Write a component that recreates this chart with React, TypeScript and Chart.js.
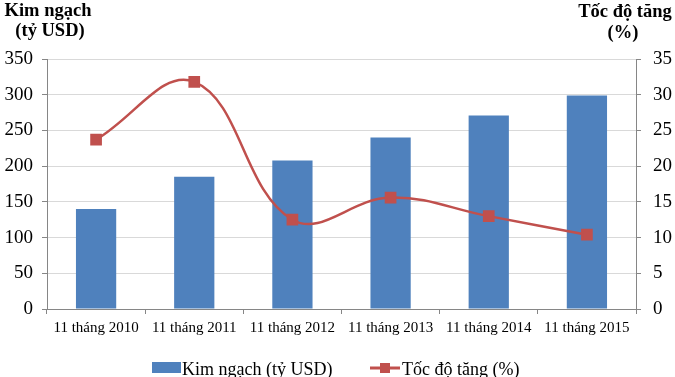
import React, { useEffect, useRef } from "react";
import { Chart, registerables } from "chart.js";

Chart.register(...registerables);

const categories = ["11 tháng 2010", "11 tháng 2011", "11 tháng 2012", "11 tháng 2013", "11 tháng 2014", "11 tháng 2015"];
const kimNgach = [140, 185, 208, 240, 271, 299];
const tocDo = [23.7, 31.8, 12.5, 15.6, 13.0, 10.4];
const barLabel = "Kim ngạch (tỷ USD)";
const lineLabel = "Tốc độ tăng (%)";

const BLUE = "#4F81BD";
const RED = "#C0504D";
const FONT = "'Liberation Serif', 'Times New Roman', serif";

const overlay = {
  id: "overlay",
  afterDraw(chart: any) {
    const ctx = chart.ctx;
    ctx.save();
    ctx.fillStyle = "#000";
    ctx.textAlign = "center";
    ctx.textBaseline = "middle";
    ctx.font = `bold 18.5px ${FONT}`;
    ctx.fillText("Kim ngạch", 48, 11);
    ctx.fillText("(tỷ USD)", 50, 31);
    ctx.fillText("Tốc độ tăng", 625, 12);
    ctx.fillText("(%)", 623, 33);

    // legend
    ctx.font = `18px ${FONT}`;
    ctx.textAlign = "left";
    ctx.fillStyle = BLUE;
    ctx.fillRect(152, 362, 29, 11);
    ctx.fillStyle = "#000";
    ctx.fillText(barLabel, 182, 370);
    ctx.strokeStyle = RED;
    ctx.lineWidth = 3;
    ctx.beginPath();
    ctx.moveTo(370, 368);
    ctx.lineTo(400, 368);
    ctx.stroke();
    ctx.fillStyle = RED;
    ctx.fillRect(380, 363, 10, 10);
    ctx.fillStyle = "#000";
    ctx.fillText(lineLabel, 402, 370);
    ctx.restore();
  },
};

export default function App() {
  const ref = useRef<HTMLCanvasElement>(null);
  useEffect(() => {
    document.body.style.margin = "0";
    const chart = new Chart(ref.current!, {
      type: "bar",
      data: {
        labels: categories,
        datasets: [
          {
            type: "line",
            label: lineLabel,
            data: tocDo,
            yAxisID: "y1",
            borderColor: RED,
            backgroundColor: RED,
            borderWidth: 2.5,
            tension: 0.4,
            pointStyle: "rect",
            pointRadius: 6.5,
            pointBackgroundColor: RED,
            pointBorderColor: RED,
            order: 0,
          } as any,
          {
            type: "bar",
            label: barLabel,
            data: kimNgach,
            yAxisID: "y",
            backgroundColor: BLUE,
            borderWidth: 0,
            categoryPercentage: 1,
            barPercentage: 0.41,
            order: 1,
          },
        ],
      },
      options: {
        responsive: false,
        animation: false,
        layout: { padding: { top: 59, left: 0, right: 0, bottom: 0 } },
        plugins: { legend: { display: false }, tooltip: { enabled: false } },
        scales: {
          x: {
            grid: { drawOnChartArea: false, offset: true, tickLength: 5, color: "#868686" },
            border: { color: "#868686" },
            ticks: { font: { family: FONT, size: 15 }, color: "#000", padding: 5, maxRotation: 0 },
            afterFit: (s: any) => { s.height = 68; },
          },
          y: {
            position: "left",
            min: 0,
            max: 350,
            ticks: { stepSize: 50, font: { family: FONT, size: 19 }, color: "#000", padding: 9 },
            grid: { color: "#D9D9D9", tickLength: 5, tickColor: "#868686" },
            border: { color: "#868686" },
            afterFit: (s: any) => { s.width = 47; },
          },
          y1: {
            position: "right",
            min: 0,
            max: 35,
            ticks: { stepSize: 5, font: { family: FONT, size: 19 }, color: "#000", padding: 12 },
            grid: { drawOnChartArea: false, tickLength: 5, color: "#868686" },
            border: { color: "#868686" },
            afterFit: (s: any) => { s.width = 39; },
          },
        },
      },
      plugins: [overlay],
    });
    return () => chart.destroy();
  }, []);
  return (
    <div style={{ width: 675, height: 377 }}>
      <canvas ref={ref} width={675} height={377} />
    </div>
  );
}
